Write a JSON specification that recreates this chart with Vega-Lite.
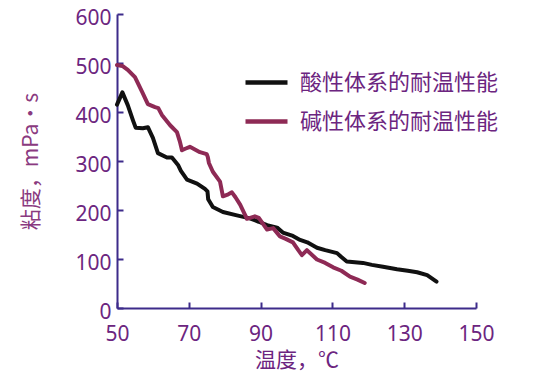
{
  "$schema": "https://vega.github.io/schema/vega-lite/v6.json",
  "autosize": "none",
  "width": 359,
  "height": 294,
  "padding": {"left": 117, "top": 14, "right": 66, "bottom": 65},
  "background": "white",
  "config": {"view": {"stroke": null}},
  "data": {"values": [
    {"s": "酸性体系的耐温性能", "t": 50, "v": 415},
    {"s": "酸性体系的耐温性能", "t": 51.5, "v": 440},
    {"s": "酸性体系的耐温性能", "t": 53, "v": 414},
    {"s": "酸性体系的耐温性能", "t": 54.5, "v": 382},
    {"s": "酸性体系的耐温性能", "t": 55.2, "v": 368},
    {"s": "酸性体系的耐温性能", "t": 57.2, "v": 367},
    {"s": "酸性体系的耐温性能", "t": 58.6, "v": 369},
    {"s": "酸性体系的耐温性能", "t": 60, "v": 347},
    {"s": "酸性体系的耐温性能", "t": 61.4, "v": 316},
    {"s": "酸性体系的耐温性能", "t": 63.9, "v": 307},
    {"s": "酸性体系的耐温性能", "t": 65.3, "v": 307},
    {"s": "酸性体系的耐温性能", "t": 67, "v": 292},
    {"s": "酸性体系的耐温性能", "t": 67.8, "v": 280},
    {"s": "酸性体系的耐温性能", "t": 69.5, "v": 262},
    {"s": "酸性体系的耐温性能", "t": 72.3, "v": 254},
    {"s": "酸性体系的耐温性能", "t": 74.5, "v": 243},
    {"s": "酸性体系的耐温性能", "t": 75.2, "v": 238},
    {"s": "酸性体系的耐温性能", "t": 75.4, "v": 222},
    {"s": "酸性体系的耐温性能", "t": 76.7, "v": 206},
    {"s": "酸性体系的耐温性能", "t": 79.5, "v": 196},
    {"s": "酸性体系的耐温性能", "t": 83.4, "v": 189},
    {"s": "酸性体系的耐温性能", "t": 87, "v": 183},
    {"s": "酸性体系的耐温性能", "t": 89.5, "v": 176},
    {"s": "酸性体系的耐温性能", "t": 91.8, "v": 169},
    {"s": "酸性体系的耐温性能", "t": 94.6, "v": 164},
    {"s": "酸性体系的耐温性能", "t": 96.2, "v": 154},
    {"s": "酸性体系的耐温性能", "t": 99, "v": 147},
    {"s": "酸性体系的耐温性能", "t": 101, "v": 139},
    {"s": "酸性体系的耐温性能", "t": 103, "v": 134},
    {"s": "酸性体系的耐温性能", "t": 105.7, "v": 123},
    {"s": "酸性体系的耐温性能", "t": 108, "v": 118},
    {"s": "酸性体系的耐温性能", "t": 111.3, "v": 112},
    {"s": "酸性体系的耐温性能", "t": 112.5, "v": 104},
    {"s": "酸性体系的耐温性能", "t": 114, "v": 95},
    {"s": "酸性体系的耐温性能", "t": 118.5, "v": 92},
    {"s": "酸性体系的耐温性能", "t": 121, "v": 88},
    {"s": "酸性体系的耐温性能", "t": 124.1, "v": 84},
    {"s": "酸性体系的耐温性能", "t": 128, "v": 79},
    {"s": "酸性体系的耐温性能", "t": 131, "v": 76},
    {"s": "酸性体系的耐温性能", "t": 133.6, "v": 73},
    {"s": "酸性体系的耐温性能", "t": 136.4, "v": 67},
    {"s": "酸性体系的耐温性能", "t": 139, "v": 54},
    {"s": "碱性体系的耐温性能", "t": 50, "v": 496},
    {"s": "碱性体系的耐温性能", "t": 51.5, "v": 494},
    {"s": "碱性体系的耐温性能", "t": 53, "v": 486},
    {"s": "碱性体系的耐温性能", "t": 55, "v": 471},
    {"s": "碱性体系的耐温性能", "t": 57, "v": 441},
    {"s": "碱性体系的耐温性能", "t": 58.6, "v": 416},
    {"s": "碱性体系的耐温性能", "t": 60.6, "v": 410},
    {"s": "碱性体系的耐温性能", "t": 61.5, "v": 408},
    {"s": "碱性体系的耐温性能", "t": 62.5, "v": 394},
    {"s": "碱性体系的耐温性能", "t": 64.8, "v": 373},
    {"s": "碱性体系的耐温性能", "t": 66.7, "v": 359},
    {"s": "碱性体系的耐温性能", "t": 67.5, "v": 340},
    {"s": "碱性体系的耐温性能", "t": 68.1, "v": 322},
    {"s": "碱性体系的耐温性能", "t": 69, "v": 325},
    {"s": "碱性体系的耐温性能", "t": 70.3, "v": 329},
    {"s": "碱性体系的耐温性能", "t": 73.1, "v": 318},
    {"s": "碱性体系的耐温性能", "t": 75, "v": 314},
    {"s": "碱性体系的耐温性能", "t": 75.3, "v": 308},
    {"s": "碱性体系的耐温性能", "t": 75.6, "v": 296},
    {"s": "碱性体系的耐温性能", "t": 76.7, "v": 278},
    {"s": "碱性体系的耐温性能", "t": 78.7, "v": 258},
    {"s": "碱性体系的耐温性能", "t": 79.5, "v": 228},
    {"s": "碱性体系的耐温性能", "t": 81, "v": 232},
    {"s": "碱性体系的耐温性能", "t": 82, "v": 236},
    {"s": "碱性体系的耐温性能", "t": 83, "v": 226},
    {"s": "碱性体系的耐温性能", "t": 84.3, "v": 211},
    {"s": "碱性体系的耐温性能", "t": 86.2, "v": 182},
    {"s": "碱性体系的耐温性能", "t": 88.4, "v": 187},
    {"s": "碱性体系的耐温性能", "t": 89.5, "v": 184},
    {"s": "碱性体系的耐温性能", "t": 91.8, "v": 160},
    {"s": "碱性体系的耐温性能", "t": 93.5, "v": 163},
    {"s": "碱性体系的耐温性能", "t": 95.4, "v": 146},
    {"s": "碱性体系的耐温性能", "t": 97, "v": 141},
    {"s": "碱性体系的耐温性能", "t": 99, "v": 134},
    {"s": "碱性体系的耐温性能", "t": 100.5, "v": 118},
    {"s": "碱性体系的耐温性能", "t": 101.5, "v": 108},
    {"s": "碱性体系的耐温性能", "t": 102.9, "v": 118},
    {"s": "碱性体系的耐温性能", "t": 105.7, "v": 99},
    {"s": "碱性体系的耐温性能", "t": 108, "v": 92},
    {"s": "碱性体系的耐温性能", "t": 110.2, "v": 83},
    {"s": "碱性体系的耐温性能", "t": 112.5, "v": 76},
    {"s": "碱性体系的耐温性能", "t": 114.9, "v": 64},
    {"s": "碱性体系的耐温性能", "t": 117, "v": 58},
    {"s": "碱性体系的耐温性能", "t": 119, "v": 51}
  ]},
  "mark": {"type": "line", "strokeWidth": 4, "strokeJoin": "round", "strokeCap": "round"},
  "encoding": {
    "x": {
      "field": "t", "type": "quantitative",
      "scale": {"domain": [50, 150], "nice": false, "zero": false},
      "axis": {
        "values": [50, 70, 90, 110, 130, 150],
        "title": "温度，℃",
        "grid": false,
        "domainColor": "#3d2b8a", "domainWidth": 2,
        "tickColor": "#3d2b8a", "tickWidth": 2, "tickSize": -6,
        "labelColor": "#6c2580", "labelFont": "Noto Sans", "labelFontSize": 21,
        "labelPadding": 21, "labelFlush": false,
        "titleColor": "#6c2580", "titleFont": "Noto Sans CJK SC", "titleFontSize": 21, "titleFontWeight": "normal",
        "titlePadding": 5
      }
    },
    "y": {
      "field": "v", "type": "quantitative",
      "scale": {"domain": [0, 600], "nice": false},
      "axis": {
        "values": [0, 100, 200, 300, 400, 500, 600],
        "title": "粘度，mPa·s",
        "grid": false,
        "domainColor": "#3d2b8a", "domainWidth": 2,
        "tickColor": "#3d2b8a", "tickWidth": 2, "tickSize": -6,
        "labelColor": "#6c2580", "labelFont": "Noto Sans", "labelFontSize": 21,
        "labelPadding": 12, "labelFlush": false, "labelOffset": 4,
        "titleColor": "#8a3a80", "titleFont": "Noto Sans CJK SC", "titleFontSize": 21, "titleFontWeight": "normal",
        "titleX": -76
      }
    },
    "color": {
      "field": "s", "type": "nominal",
      "scale": {"domain": ["酸性体系的耐温性能", "碱性体系的耐温性能"], "range": ["#111111", "#8e2a55"]},
      "legend": {
        "title": null,
        "orient": "none",
        "legendX": 126,
        "legendY": 45,
        "symbolType": "stroke",
        "symbolSize": 1764,
        "symbolStrokeWidth": 4.5,
        "labelFont": "Noto Sans CJK SC",
        "labelFontSize": 22,
        "labelColor": "#6c2580",
        "labelOffset": 10,
        "rowPadding": 4,
        "labelLimit": 300
      }
    }
  }
}
